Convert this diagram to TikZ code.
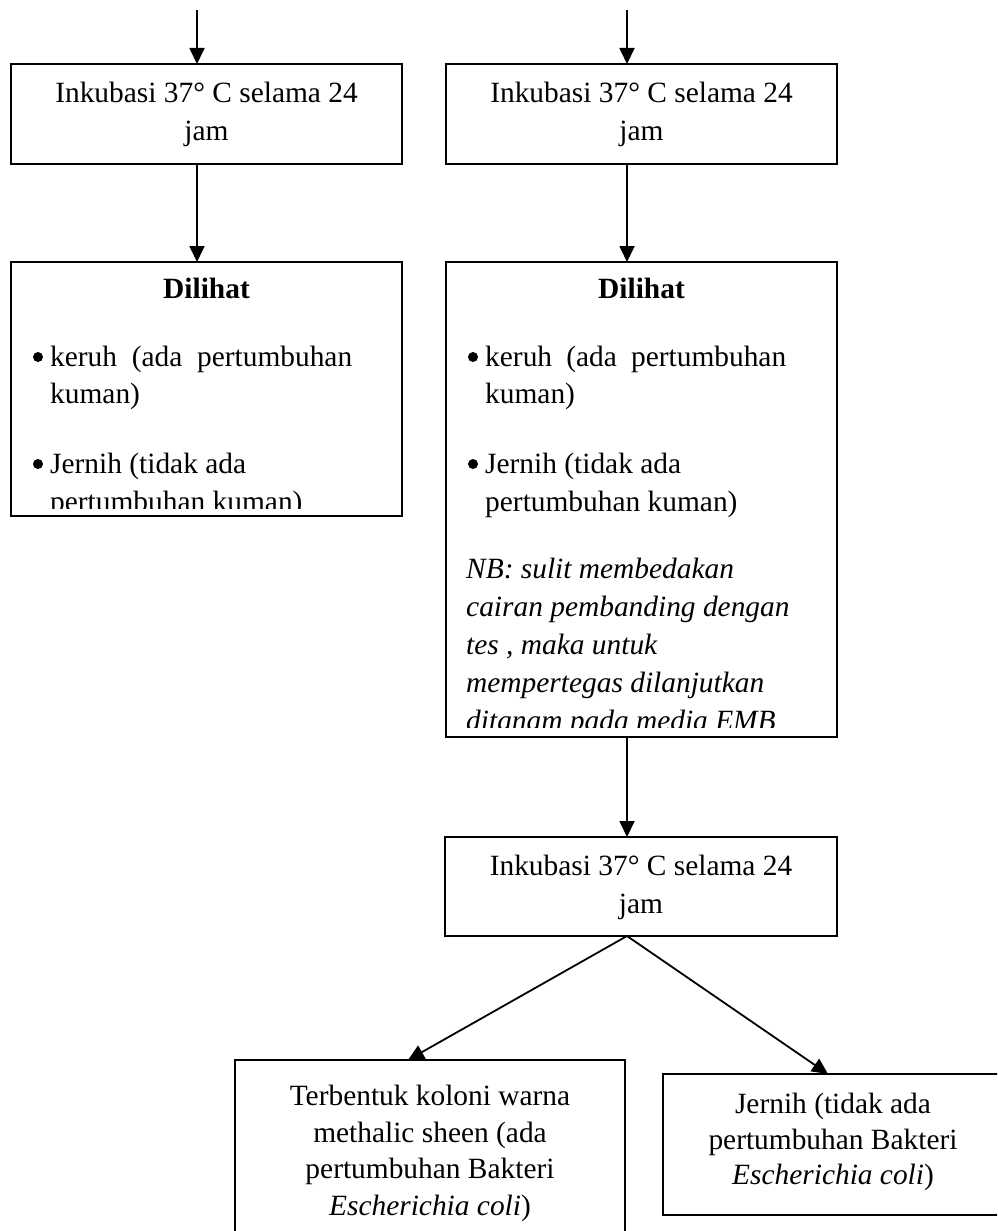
\documentclass[tikz,border=0pt]{standalone}
\usepackage{fontspec}
\setmainfont{Liberation Serif}
\usetikzlibrary{arrows.meta}
\begin{document}
\begin{tikzpicture}[x=1pt,y=-1pt,
  box/.style={draw,line width=1.8pt,rectangle,inner sep=0pt,outer sep=0pt},
  conn/.style={line width=1.8pt,-{Triangle[length=16pt,width=15pt]}},
  txt/.style={inner sep=0pt,anchor=base,font=\fontsize{29.4}{38}\selectfont},
  txtl/.style={txt,anchor=base west},
  bulletdot/.style={circle,fill=black,minimum size=10pt,inner sep=0pt}
]
\clip (0,0) rectangle (997,1231);
\fill[white] (0,0) rectangle (997,1231);

% boxes
\node[box,minimum width=391pt,minimum height=100pt] (L1) at (206.5,114) {};
\node[box,minimum width=391pt,minimum height=254pt] (L2) at (206.5,389) {};
\node[box,minimum width=391pt,minimum height=100pt] (R1) at (641.5,114) {};
\node[box,minimum width=391pt,minimum height=475pt] (R2) at (641.5,499.5) {};
\node[box,minimum width=392pt,minimum height=99pt] (R3) at (641,886.5) {};
\node[box,minimum width=390pt,minimum height=190pt] (B1) at (430,1155) {};
\node[box,minimum width=340pt,minimum height=141pt] (B2) at (833,1144.5) {};

% connector helper coordinates
\coordinate (sL) at (197,10);
\coordinate (sR) at (627,10);
\coordinate (xB1) at (408,0);
\coordinate (xB2) at (828,0);

% connectors
\draw[conn] (sL) -- (sL |- L1.north);
\draw[conn] (sL |- L1.south) -- (sL |- L2.north);
\draw[conn] (sR) -- (sR |- R1.north);
\draw[conn] (sR |- R1.south) -- (sR |- R2.north);
\draw[conn] (sR |- R2.south) -- (sR |- R3.north);
\draw[conn] (sR |- R3.south) -- (xB1 |- B1.north);
\draw[conn] (sR |- R3.south) -- (xB2 |- B2.north);

% L1 text
\node[txt] (l1a) at (206.5,102) {Inkubasi 37° C selama 24};
\node[txt] (l1b) at (206.5,140) {jam};
% R1 text
\node[txt] (r1a) at (641.5,102) {Inkubasi 37° C selama 24};
\node[txt] (r1b) at (641.5,140) {jam};
% R3 text
\node[txt] (r3a) at (641,875) {Inkubasi 37° C selama 24};
\node[txt] (r3b) at (641,913) {jam};

% L2 text
\node[txt,font=\fontsize{29.4}{38}\selectfont\bfseries] (l2h) at (206.5,298) {Dilihat};
\node[bulletdot] (l2b1) at (38,357) {};
\node[txtl] (l2a) at (50,366) {\makebox[302pt][s]{keruh (ada pertumbuhan}};
\node[txtl] (l2b) at (50,403) {kuman)};
\node[bulletdot] (l2b2) at (38,464) {};
\begin{scope}
  \clip (11,262) rectangle (402,508);
  \node[txtl] (l2c) at (50,473) {Jernih (tidak ada};
  \node[txtl] (l2d) at (50,511) {pertumbuhan kuman)};
\end{scope}

% R2 text
\node[txt,font=\fontsize{29.4}{38}\selectfont\bfseries] (r2h) at (641.5,298) {Dilihat};
\node[bulletdot] (r2b1) at (473,357) {};
\node[txtl] (r2a) at (485,366) {\makebox[301pt][s]{keruh (ada pertumbuhan}};
\node[txtl] (r2b) at (485,403) {kuman)};
\node[bulletdot] (r2b2) at (473,464) {};
\node[txtl] (r2c) at (485,473) {Jernih (tidak ada};
\node[txtl] (r2d) at (485,511) {pertumbuhan kuman)};
\begin{scope}
  \clip (446,262) rectangle (837,727);
  \node[txtl,font=\fontsize{29.4}{38}\selectfont\itshape] (nb1) at (466,578) {NB: sulit membedakan};
  \node[txtl,font=\fontsize{29.4}{38}\selectfont\itshape] (nb2) at (466,616) {cairan pembanding dengan};
  \node[txtl,font=\fontsize{29.4}{38}\selectfont\itshape] (nb3) at (466,654) {tes , maka untuk};
  \node[txtl,font=\fontsize{29.4}{38}\selectfont\itshape] (nb4) at (466,692) {mempertegas dilanjutkan};
  \node[txtl,font=\fontsize{29.4}{38}\selectfont\itshape] (nb5) at (466,730) {ditanam pada media EMB};
\end{scope}

% B1 text
\node[txt] (b1a) at (430,1105) {Terbentuk koloni warna};
\node[txt] (b1b) at (430,1142) {methalic sheen (ada};
\node[txt] (b1c) at (430,1178) {pertumbuhan Bakteri};
\node[txt] (b1d) at (430,1215) {\textit{Escherichia coli})};

% B2 text
\node[txt] (b2a) at (833,1113) {Jernih (tidak ada};
\node[txt] (b2b) at (833,1149) {pertumbuhan Bakteri};
\node[txt] (b2c) at (833,1184) {\textit{Escherichia coli})};
\end{tikzpicture}
\end{document}
